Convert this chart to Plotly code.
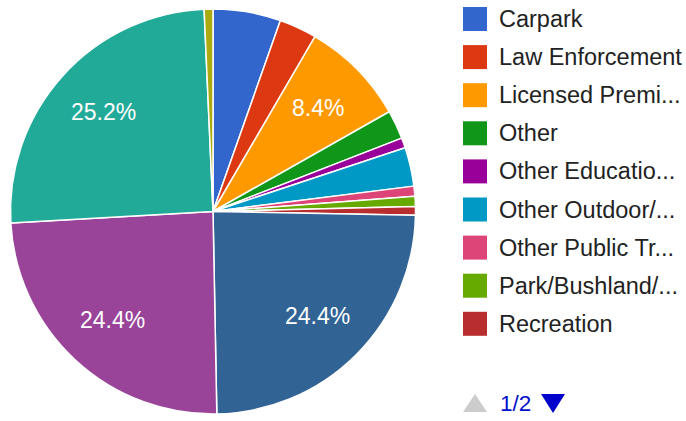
import math
import plotly.graph_objects as go

labels = ["Carpark", "Law Enforcement", "Licensed Premises", "Other", "Other Education",
          "Other Outdoor/Public Place", "Other Public Transport", "Park/Bushland/Reserve",
          "Recreation", "Residential", "Retail", "Street/Lane/Footpath", "Transport"]
values = [5.4, 3.0, 8.4, 2.3, 0.8, 3.1, 0.8, 0.8, 0.7, 24.4, 24.4, 25.2, 0.7]
colors = ["#3366cc", "#dc3912", "#ff9900", "#109618", "#990099", "#0099c6", "#dd4477",
          "#66aa00", "#b82e2e", "#316395", "#994499", "#22aa99", "#aaaa11"]
legend_text = ["Carpark", "Law Enforcement", "Licensed Premi...", "Other", "Other Educatio...",
               "Other Outdoor/...", "Other Public Tr...", "Park/Bushland/...", "Recreation"]
page_text = "1/2"

W, H = 686, 421
FONT = "Arial, Liberation Sans, sans-serif"
CX, CY, R = 213, 211.5, 202.5   # pie centre / radius in pixels

fig = go.Figure(go.Pie(
    labels=labels, values=values, sort=False, direction="clockwise", rotation=0,
    marker=dict(colors=colors, line=dict(color="white", width=1.5)),
    textinfo="none",
    domain=dict(x=[(CX - R) / W, (CX + R) / W], y=[(H - CY - R) / H, (H - CY + R) / H]),
    showlegend=False, hoverinfo="label+percent",
))

def px(x):
    return x / W

def py(y):
    return 1 - y / H

shapes = []
annotations = []

# percentage labels for large slices, placed at the mid-angle of each slice
total = sum(values)
cum = 0.0
for v in values:
    frac = v / total
    if frac >= 0.08:
        ang = math.radians((cum + v / 2) / total * 360)
        lx = CX + 0.73 * R * math.sin(ang)
        ly = CY - 0.73 * R * math.cos(ang)
        annotations.append(dict(text=f"{frac * 100:.1f}%", xref="paper", yref="paper",
                                x=px(lx), y=py(ly), xanchor="center", yanchor="middle",
                                showarrow=False,
                                font=dict(size=23, color="white", family=FONT)))
    cum += v

for i, t in enumerate(legend_text):
    yc = 19 + i * 38.1
    shapes.append(dict(type="rect", xref="paper", yref="paper",
                       x0=px(463), x1=px(487), y0=py(yc - 12), y1=py(yc + 12),
                       fillcolor=colors[i], line=dict(width=0)))
    annotations.append(dict(text=t, xref="paper", yref="paper", x=px(497), y=py(yc),
                            xanchor="left", yanchor="middle", showarrow=False,
                            font=dict(size=23.5, color="#222222", family=FONT)))

# pager
shapes.append(dict(type="path", xref="paper", yref="paper",
                   path=f"M {px(463)} {py(412)} L {px(487)} {py(412)} L {px(475)} {py(394)} Z",
                   fillcolor="#cccccc", line=dict(width=0)))
shapes.append(dict(type="path", xref="paper", yref="paper",
                   path=f"M {px(541)} {py(394)} L {px(565)} {py(394)} L {px(553)} {py(413)} Z",
                   fillcolor="#0000cc", line=dict(width=0)))
annotations.append(dict(text=page_text, xref="paper", yref="paper", x=px(498), y=py(403.5),
                        xanchor="left", yanchor="middle", showarrow=False,
                        font=dict(size=22.5, color="#0011cc", family=FONT)))

fig.update_layout(width=W, height=H, margin=dict(l=0, r=0, t=0, b=0),
                  paper_bgcolor="white", plot_bgcolor="white",
                  shapes=shapes, annotations=annotations)
fig.write_html("out.html", config={"displayModeBar": False},
               post_script="document.body.style.margin='0px';")
